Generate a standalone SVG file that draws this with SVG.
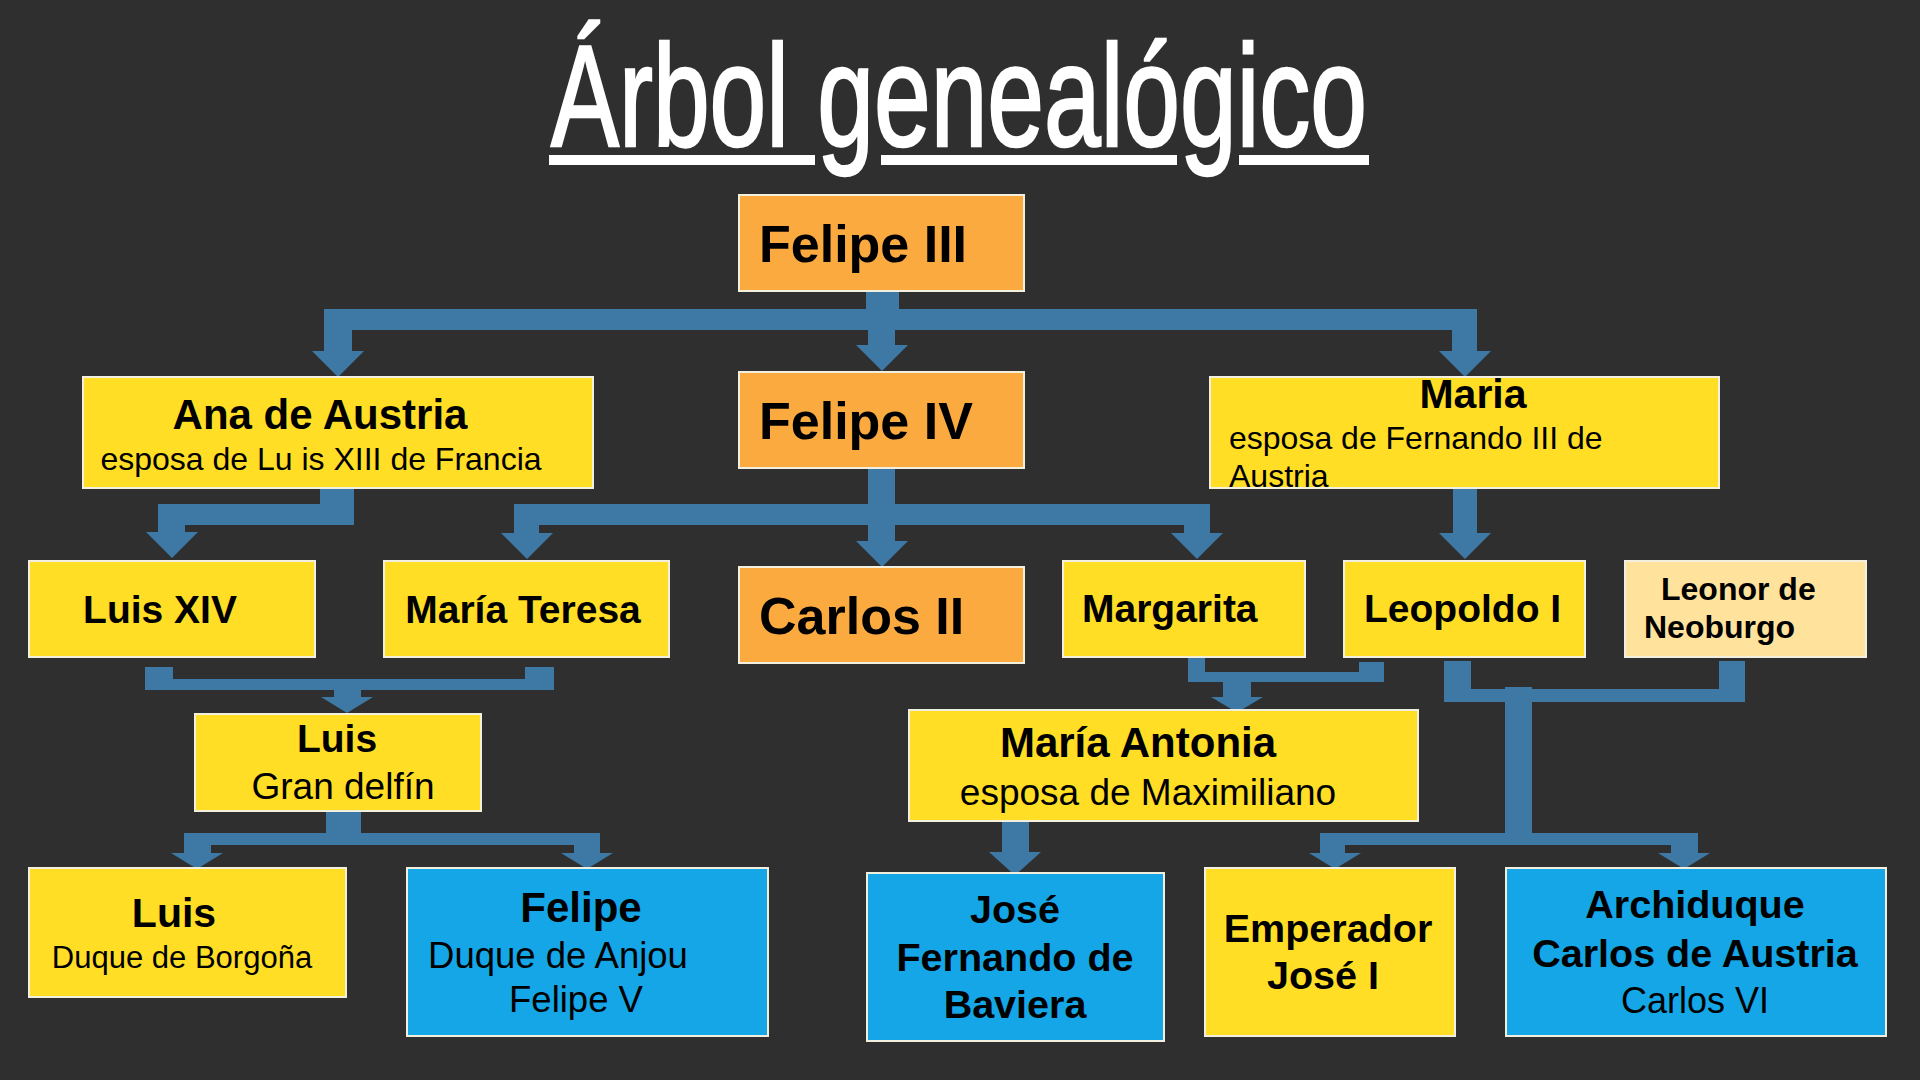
<svg xmlns="http://www.w3.org/2000/svg" width="1920" height="1080" viewBox="0 0 1920 1080">
<style>
.bg{fill:#2f2f2f}
.box{stroke:#f3efdf;stroke-width:2}
.y{fill:#ffde25}
.o{fill:#fbaa40}
.b{fill:#14a6e7}
.l{fill:#ffe39c}
.c{fill:#3d79a4}
text{font-family:"Liberation Sans",Arial,sans-serif;fill:#000}
.t{font-weight:bold}
.s{font-weight:normal}
.title{fill:#fff;font-size:144px;stroke:#fff;stroke-width:2.5}
</style>
<defs>
<path id="ah" d="M-26,0 L26,0 L0,26 Z"/>
</defs>
<rect class="bg" x="0" y="0" width="1920" height="1080"/>

<g id="title">
<text class="title" x="551" y="146" textLength="816" lengthAdjust="spacingAndGlyphs">Árbol genealógico</text>
<rect x="549" y="155" width="266" height="10" fill="#fff"/>
<rect x="881" y="155" width="296" height="10" fill="#fff"/>
<rect x="1239" y="155" width="130" height="10" fill="#fff"/>
</g>

<g id="connectors" class="c">
<!-- Felipe III -> Ana, Felipe IV, Maria -->
<rect x="866" y="290" width="33" height="40"/>
<rect x="324" y="309" width="1153" height="21"/>
<rect x="324" y="309" width="28" height="43"/>
<use href="#ah" x="338" y="351"/>
<rect x="868" y="309" width="27" height="37"/>
<use href="#ah" x="882" y="345"/>
<rect x="1452" y="309" width="25" height="43"/>
<use href="#ah" x="1465" y="351"/>
<!-- Ana -> Luis XIV -->
<rect x="320" y="489" width="34" height="36"/>
<rect x="158" y="504" width="196" height="21"/>
<rect x="158" y="504" width="27" height="29"/>
<use href="#ah" x="172" y="532"/>
<!-- Felipe IV -> María Teresa, Carlos II, Margarita -->
<rect x="868" y="468" width="27" height="74"/>
<use href="#ah" x="882" y="541"/>
<rect x="514" y="504" width="696" height="21"/>
<rect x="514" y="504" width="25" height="30"/>
<use href="#ah" x="527" y="533"/>
<rect x="1184" y="504" width="26" height="30"/>
<use href="#ah" x="1197" y="533"/>
<!-- Maria -> Leopoldo I -->
<rect x="1453" y="489" width="24" height="45"/>
<use href="#ah" x="1465" y="533"/>
<!-- Luis XIV + María Teresa -> Luis -->
<rect x="145" y="667" width="28" height="23"/>
<rect x="525" y="667" width="29" height="23"/>
<rect x="145" y="679" width="409" height="11"/>
<rect x="334" y="679" width="27" height="19"/>
<use href="#ah" x="347" y="697" transform="translate(347 697) scale(1 0.62) translate(-347 -697)"/>
<!-- Luis -> Luis, Felipe -->
<rect x="326" y="811" width="35" height="34"/>
<rect x="184" y="833" width="416" height="12"/>
<rect x="184" y="833" width="27" height="21"/>
<use href="#ah" x="197" y="853" transform="translate(197 853) scale(1 0.62) translate(-197 -853)"/>
<rect x="574" y="833" width="26" height="21"/>
<use href="#ah" x="587" y="853" transform="translate(587 853) scale(1 0.62) translate(-587 -853)"/>
<!-- Margarita + Leopoldo -> María Antonia -->
<rect x="1188" y="657" width="17" height="25"/>
<rect x="1359" y="662" width="25" height="20"/>
<rect x="1188" y="672" width="196" height="10"/>
<rect x="1223" y="672" width="28" height="26"/>
<use href="#ah" x="1237" y="697" transform="translate(1237 697) scale(1 0.6) translate(-1237 -697)"/>
<!-- Leopoldo + Leonor -> Emperador, Archiduque -->
<rect x="1444" y="661" width="27" height="41"/>
<rect x="1719" y="661" width="26" height="41"/>
<rect x="1444" y="689" width="301" height="13"/>
<rect x="1505" y="687" width="27" height="158"/>
<rect x="1320" y="833" width="378" height="12"/>
<rect x="1320" y="833" width="25" height="21"/>
<use href="#ah" x="1335" y="853" transform="translate(1335 853) scale(1 0.62) translate(-1335 -853)"/>
<rect x="1671" y="833" width="27" height="21"/>
<use href="#ah" x="1684" y="853" transform="translate(1684 853) scale(1 0.62) translate(-1684 -853)"/>
<!-- María Antonia -> José Fernando -->
<rect x="1002" y="822" width="27" height="31"/>
<use href="#ah" x="1015" y="852" transform="translate(1015 852) scale(1 0.9) translate(-1015 -852)"/>
</g>

<g id="felipe3">
<rect class="box o" x="739" y="195" width="285" height="96"/>
<text class="t" x="759" y="262" font-size="52">Felipe III</text>
</g>
<g id="felipe4">
<rect class="box o" x="739" y="372" width="285" height="96"/>
<text class="t" x="759" y="439" font-size="52">Felipe IV</text>
</g>
<g id="ana">
<rect class="box y" x="83" y="377" width="510" height="111"/>
<text class="t" x="320" y="429" font-size="42" text-anchor="middle">Ana de Austria</text>
<text class="s" x="321" y="470" font-size="32" text-anchor="middle">esposa de Lu is XIII de Francia</text>
</g>
<g id="maria">
<rect class="box y" x="1210" y="377" width="509" height="111"/>
<text class="t" x="1473" y="408" font-size="41" text-anchor="middle">Maria</text>
<text class="s" x="1229" y="449" font-size="32">esposa de Fernando III de</text>
<text class="s" x="1229" y="487" font-size="32">Austria</text>
</g>
<g id="luis14">
<rect class="box y" x="29" y="561" width="286" height="96"/>
<text class="t" x="160" y="623" font-size="39" text-anchor="middle">Luis XIV</text>
</g>
<g id="mariateresa">
<rect class="box y" x="384" y="561" width="285" height="96"/>
<text class="t" x="523" y="623" font-size="39" text-anchor="middle">María Teresa</text>
</g>
<g id="carlos2">
<rect class="box o" x="739" y="567" width="285" height="96"/>
<text class="t" x="759" y="634" font-size="52">Carlos II</text>
</g>
<g id="margarita">
<rect class="box y" x="1063" y="561" width="242" height="96"/>
<text class="t" x="1082" y="622" font-size="39">Margarita</text>
</g>
<g id="leopoldo">
<rect class="box y" x="1344" y="561" width="241" height="96"/>
<text class="t" x="1364" y="622" font-size="39">Leopoldo I</text>
</g>
<g id="leonor">
<rect class="box l" x="1625" y="561" width="241" height="96"/>
<text class="t" x="1661" y="600" font-size="32">Leonor de</text>
<text class="t" x="1644" y="638" font-size="32">Neoburgo</text>
</g>
<g id="luisdelfin">
<rect class="box y" x="195" y="714" width="286" height="97"/>
<text class="t" x="337" y="752" font-size="39" text-anchor="middle">Luis</text>
<text class="s" x="343" y="799" font-size="37" text-anchor="middle">Gran delfín</text>
</g>
<g id="mariaantonia">
<rect class="box y" x="909" y="710" width="509" height="111"/>
<text class="t" x="1138" y="757" font-size="42" text-anchor="middle">María Antonia</text>
<text class="s" x="1148" y="805" font-size="37" text-anchor="middle">esposa de Maximiliano</text>
</g>
<g id="luisborgona">
<rect class="box y" x="29" y="868" width="317" height="129"/>
<text class="t" x="174" y="927" font-size="41" text-anchor="middle">Luis</text>
<text class="s" x="182" y="968" font-size="31" text-anchor="middle">Duque de Borgoña</text>
</g>
<g id="felipeanjou">
<rect class="box b" x="407" y="868" width="361" height="168"/>
<text class="t" x="581" y="922" font-size="42" text-anchor="middle">Felipe</text>
<text class="s" x="558" y="968" font-size="36.5" text-anchor="middle">Duque de Anjou</text>
<text class="s" x="576" y="1012" font-size="36.5" text-anchor="middle">Felipe V</text>
</g>
<g id="josefernando">
<rect class="box b" x="867" y="873" width="297" height="168"/>
<text class="t" x="1015" y="923" font-size="39.5" text-anchor="middle">José</text>
<text class="t" x="1015" y="971" font-size="39.5" text-anchor="middle">Fernando de</text>
<text class="t" x="1015" y="1018" font-size="39.5" text-anchor="middle">Baviera</text>
</g>
<g id="emperador">
<rect class="box y" x="1205" y="868" width="250" height="168"/>
<text class="t" x="1328" y="942" font-size="39.5" text-anchor="middle">Emperador</text>
<text class="t" x="1323" y="989" font-size="39.5" text-anchor="middle">José I</text>
</g>
<g id="archiduque">
<rect class="box b" x="1506" y="868" width="380" height="168"/>
<text class="t" x="1695" y="918" font-size="39.5" text-anchor="middle">Archiduque</text>
<text class="t" x="1695" y="967" font-size="39.5" text-anchor="middle">Carlos de Austria</text>
<text class="s" x="1695" y="1013" font-size="36" text-anchor="middle">Carlos VI</text>
</g>
</svg>
